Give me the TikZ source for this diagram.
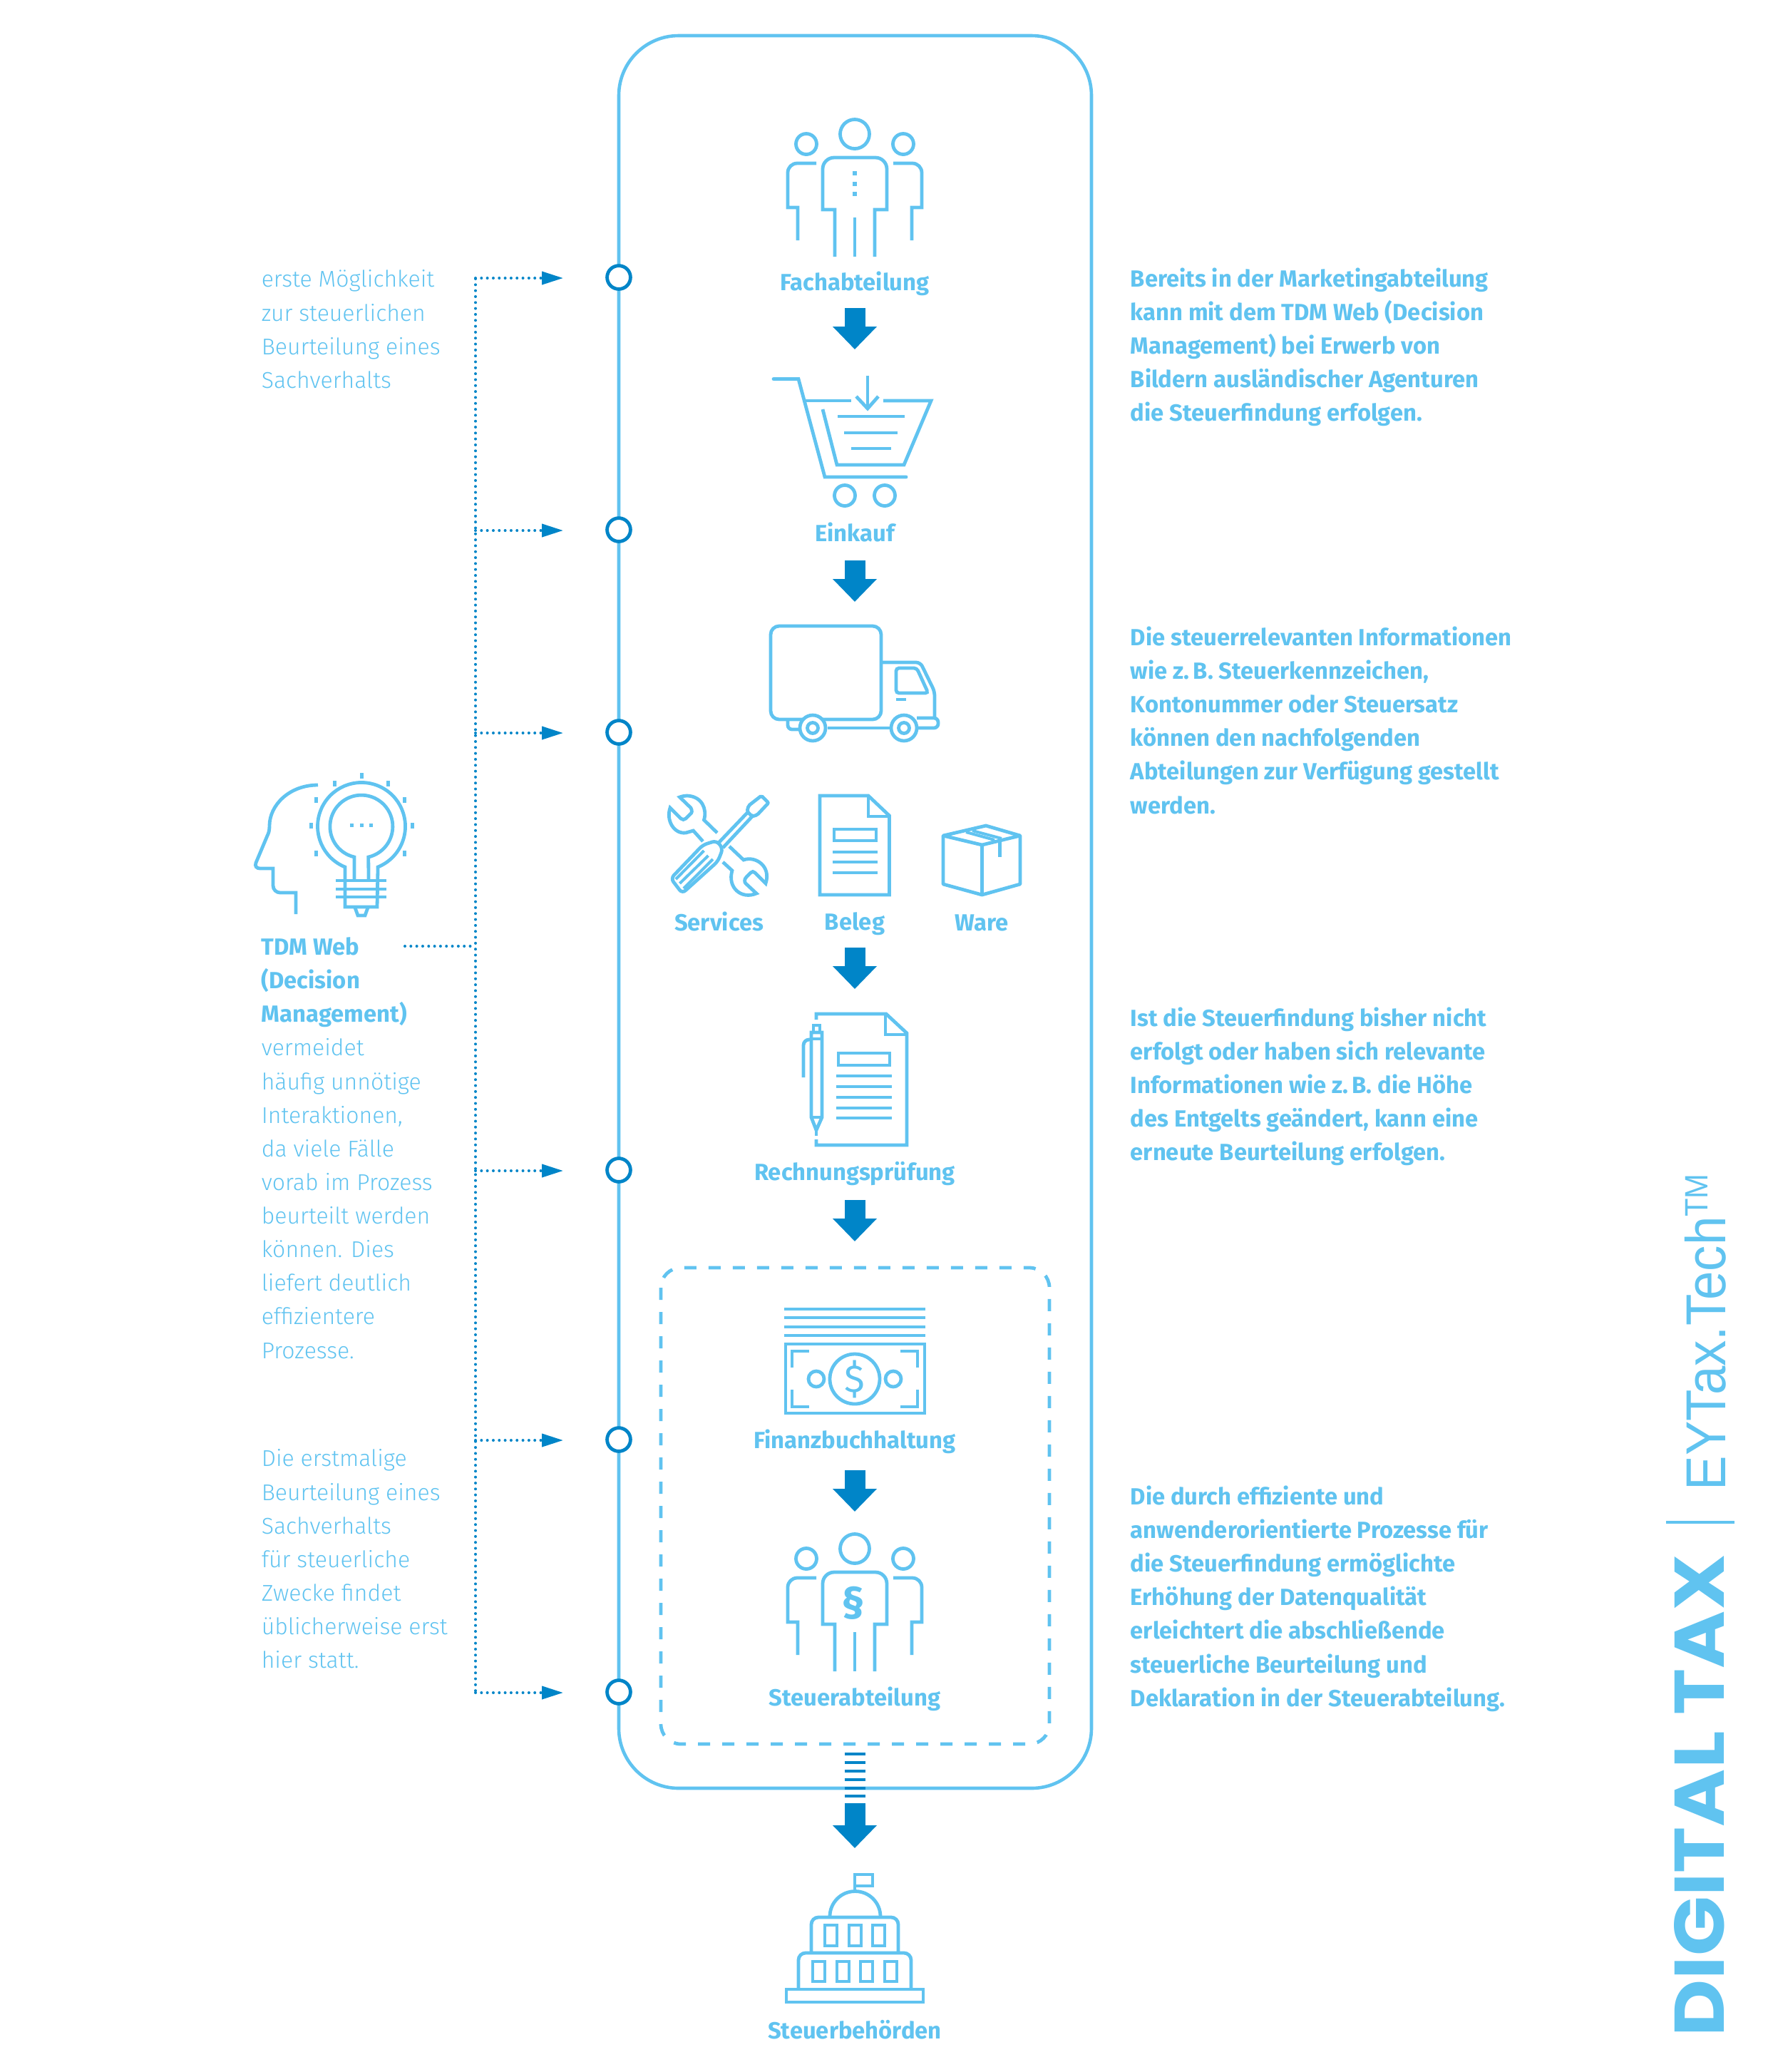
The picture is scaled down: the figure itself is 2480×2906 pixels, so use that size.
\documentclass[tikz,border=0pt]{standalone}
\usepackage{fontspec}
\usepackage{graphicx}
\setmainfont{Fira Sans}
\newfontfamily\lightfont{Fira Sans Light}
\newfontfamily\logofont{Poppins}
\newfontfamily\logothin{Liberation Sans}
\usetikzlibrary{arrows.meta}
\definecolor{eylight}{HTML}{60C3F0}
\definecolor{eydark}{HTML}{0085C8}
\tikzset{
	icon/.style={draw=eylight, line width=1.2pt, line join=miter},
	mainframe/.style={draw=eylight, line width=1.15pt, rounded corners=21pt},
	dashframe/.style={draw=eylight, line width=1.2pt, rounded corners=7pt, dash pattern=on 4.25pt off 4.25pt},
	stepcircle/.style={circle, draw=eydark, line width=1.2pt, fill=white, minimum size=8.2pt, inner sep=0pt},
	dotline/.style={draw=eydark, line width=1pt, line cap=round, dash pattern=on 0pt off 2.08pt},
	dotarrow/.style={dotline, -{Triangle[width=4.5pt,length=7.5pt]}},
	flowarrow/.style={draw=eydark, line width=7.25pt, -{Triangle[width=15pt,length=8pt]}},
	boldlabel/.style={text=eylight, font=\fontsize{8.2}{11.78}\selectfont\bfseries, inner sep=0pt},
	sidetext/.style={text=eylight, align=left, anchor=north west, inner sep=0pt, font=\fontsize{8}{11.78}\selectfont\lightfont},
	boldtext/.style={sidetext, font=\fontsize{8.2}{11.78}\selectfont\bfseries},
	peoplepic/.pic={
		\draw[icon] (0,0) circle (20.5);
		\draw[icon] (-28,172) -- (-28,106) -- (-45,106) [rounded corners=4pt] -- (-45,33) -- (45,33) [sharp corners] -- (45,106) -- (28,106) -- (28,172);
		\draw[icon] (0,117) -- (0,172);
		\foreach \s in {-1,1} {
			\draw[icon] (\s*68,14) circle (14.5);
			\draw[icon] (\s*54,41) [rounded corners=3.3pt] -- (\s*94,41) [sharp corners] -- (\s*94,103) -- (\s*80,103) -- (\s*80,149);
		}
	},
}
\begin{document}
\begin{tikzpicture}[x=0.25pt,y=-0.25pt]
	\def\cx{1199} % middle of the process column
	\def\rail{868} % left edge of the frame
	\def\trunk{667} % dotted trunk
	\useasboundingbox (0,0) rectangle (2480,2906);

	% frames
	\draw[mainframe] (\rail,50) rectangle (1531,2508);
	\draw[dashframe] (927,1778) rectangle (1472,2446);

	% dotted trunk, steps on the rail
	\coordinate (j1) at (\trunk,391);
	\coordinate (j6) at (\trunk,2373);
	\draw[dotline] (j1) -- (j6);
	\foreach \i/\y in {1/389,2/743,3/1027,4/1641,5/2019,6/2373} {
		\node[stepcircle] (c\i) at (\rail,\y) {};
		\coordinate (j\i) at (\trunk,\y+1);
		\coordinate (t\i) at (790,\y+1);
		\draw[dotarrow] (j\i) -- (t\i);
	}
	\coordinate (tdmstart) at (568,1327);
	\coordinate (tdmjoin) at (\trunk,1327);
	\draw[dotline] (tdmstart) -- (tdmjoin);

	% block arrows
	\foreach \n/\y in {a/432,b/786,c/1329,d/1683,e/2062} {
		\coordinate (\n top) at (\cx,\y);
		\coordinate (\n tip) at (\cx,\y+58);
		\draw[flowarrow] (\n top) -- (\n tip);
	}
	\coordinate (ftop) at (\cx,2529);
	\coordinate (ftip) at (\cx,2592);
	\draw[flowarrow] (ftop) -- (ftip);
	\foreach \y in {2460,2472,2484,2496,2508,2519} {
		\draw[draw=eydark, line width=1.1pt] (1184.5,\y) -- (1213.5,\y);
	}

	% Fachabteilung
	\pic at (\cx,188) {peoplepic};
	\foreach \y in {243,258,272} {
		\fill[eylight] (\cx-2.7,\y-2.7) rectangle (\cx+2.7,\y+2.7);
	}
	\node[boldlabel] (fach) at (\cx,398) {Fachabteilung};

	% Einkauf
	\draw[icon, line cap=round] (1085,531.5) -- (1120,531.5) -- (1157,669) -- (1271,669);
	\draw[icon] (1129,562) -- (1194,562);
	\draw[icon] (1239,562) -- (1306,562) -- (1268,652) -- (1174,652) -- (1154,574);
	\draw[icon] (1217,526.5) -- (1217,573);
	\draw[icon] (1201,556) -- (1217,573) -- (1232,556);
	\draw[icon] (1175,584) -- (1269,584);
	\draw[icon] (1184,607) -- (1259,607);
	\draw[icon] (1194,629) -- (1250,629);
	\draw[icon] (1185,695) circle (14.5);
	\draw[icon] (1241,695) circle (14.5);
	\node[boldlabel] (einkauf) at (\cx,746) {Einkauf};

	% Lieferung
	\draw[icon, rounded corners=3pt] (1081,878) rectangle (1236,1009);
	\draw[icon, rounded corners=1.5pt] (1237,929) -- (1291,929) -- (1311,970) [sharp corners] -- (1311,1005);
	\draw[icon, rounded corners=1pt] (1257,937) -- (1286,937) -- (1302,972) -- (1257,972) -- cycle;
	\draw[icon] (1257,981) -- (1271,981);
	\draw[icon, rounded corners=1.5pt] (1286,1007) -- (1316,1007) -- (1316,1021) -- (1287,1021);
	\draw[icon] (1161,1021) -- (1248,1021);
	\draw[icon, rounded corners=1.5pt] (1105,1009) -- (1105,1023) -- (1121,1023);
	\foreach \x in {1140,1268} {
		\draw[icon, fill=white] (\x,1021) circle (18);
		\draw[icon] (\x,1021) circle (7.5);
	}

	% Services
	\draw[icon] (1006,1168) -- (987.5,1150) .. controls (992,1135) and (985,1117) .. (964,1116) .. controls (960,1116) and (956,1117) .. (953.5,1118) -- (969,1133) .. controls (971,1137) and (971,1140) .. (968,1142) -- (962,1148) .. controls (960,1150) and (957,1150) .. (955,1148) -- (940,1133) .. controls (934,1150) and (945,1170) .. (962,1168) -- (972.5,1165) -- (986,1180);
	\draw[icon] (1023,1187) -- (1043,1206) .. controls (1060,1200) and (1082,1215) .. (1074,1239) -- (1059,1224) .. controls (1057,1222) and (1055,1222) .. (1053,1224) -- (1047,1230) .. controls (1044,1233) and (1044,1237) .. (1046,1239) -- (1061,1253) .. controls (1040,1262) and (1020,1245) .. (1027,1221) -- (1014,1209);
	\draw[icon] (1007,1183) -- (1050,1138);
	\draw[icon] (1014,1189) -- (1057,1143);
	\draw[icon, rounded corners=0.5pt] (1050,1130) -- (1068,1116) -- (1078,1126) -- (1062,1143) -- (1055,1145) -- (1048,1138) -- cycle;
	\draw[icon, rounded corners=1.5pt] (1005,1179) -- (986,1185) -- (941,1232) -- (957,1253) -- (1007,1208) -- (1014,1190) -- cycle;
	\draw[icon, line width=1pt] (987.5,1193) -- (948,1233);
	\draw[icon, line width=1pt] (993.5,1200) -- (953.5,1239);
	\draw[icon, line width=1pt] (1000,1205) -- (959,1246);
	\node[boldlabel] (services) at (1008.6,1292) {Services};

	% Beleg
	\draw[icon] (1150,1116) -- (1218,1116) -- (1247.5,1144) -- (1247.5,1255) -- (1150,1255) -- cycle;
	\draw[icon] (1218,1116) -- (1218,1145) -- (1247.5,1145);
	\draw[icon] (1170,1163) rectangle (1229,1179);
	\foreach \y in {1195,1209,1224} {
		\draw[icon] (1168,\y) -- (1231,\y);
	}
	\node[boldlabel] (beleg) at (\cx,1296) {Beleg};

	% Ware
	\draw[icon, line join=round] (1323,1172) -- (1383,1158) -- (1431,1172) -- (1431,1240) -- (1377.5,1255) -- (1323,1240) -- cycle;
	\draw[icon] (1323,1172) -- (1377.5,1185) -- (1431,1172);
	\draw[icon] (1377.5,1185) -- (1377.5,1255);
	\draw[icon, line width=1pt] (1355,1167) -- (1395,1178);
	\draw[icon, line width=1pt] (1364,1165) -- (1405,1176);
	\draw[icon] (1402.5,1180) -- (1402.5,1202);
	\node[boldlabel] (ware) at (1377.5,1294) {Ware};

	% Rechnungsprüfung
	\draw[icon] (1145,1430) -- (1145,1422) -- (1243,1422) -- (1272,1449) -- (1272,1606) -- (1145,1606) -- (1145,1598);
	\draw[icon] (1242,1422) -- (1242,1451) -- (1272,1451);
	\draw[icon] (1176,1477) rectangle (1248,1494);
	\foreach \y in {1509,1524,1539,1554,1568} {
		\draw[icon] (1173,\y) -- (1251,\y);
	}
	\draw[icon] (1138,1448) -- (1153,1448) -- (1153,1567) -- (1145,1585) -- (1138,1567) -- cycle;
	\draw[icon] (1141,1448) -- (1141,1438) -- (1150,1438) -- (1150,1448);
	\draw[icon] (1138,1457) -- (1153,1457);
	\draw[icon] (1138,1567) -- (1153,1567);
	\draw[icon] (1145,1585) -- (1145,1593);
	\draw[icon, rounded corners=2pt] (1127,1511) -- (1127,1458) -- (1138,1458);
	\node[boldlabel] (rechnung) at (\cx,1646) {Rechnungsprüfung};

	% Finanzbuchhaltung
	\foreach \y in {1836,1848,1861,1873} {
		\draw[icon] (1100,\y) -- (1298,\y);
	}
	\draw[icon] (1102,1885) rectangle (1297,1982);
	\draw[icon] (1111,1918) -- (1111,1895) -- (1135,1895);
	\draw[icon] (1263,1895) -- (1287,1895) -- (1287,1918);
	\draw[icon] (1111,1949) -- (1111,1973) -- (1135,1973);
	\draw[icon] (1263,1973) -- (1287,1973) -- (1287,1949);
	\draw[icon] (\cx,1934) circle (35);
	\draw[icon] (1145,1934) circle (11);
	\draw[icon] (1253,1934) circle (11);
	\node[text=eylight, inner sep=0pt, font=\fontsize{13.5}{13.5}\selectfont] (dollar) at (\cx,1934) {\$};
	\node[boldlabel] (finanz) at (\cx,2022) {Finanzbuchhaltung};

	% Steuerabteilung
	\pic at (\cx,2172) {peoplepic};
	\node[text=eylight, inner sep=0pt, font=\fontsize{15}{15}\selectfont\bfseries] (para) at (1197,2248) {§};
	\node[boldlabel] (steuerabt) at (\cx,2383) {Steuerabteilung};

	% Steuerbehörden
	\draw[icon] (1199,2652) -- (1199,2629) -- (1224,2629) -- (1224,2645) -- (1199,2645);
	\draw[icon] (1164,2688) arc[start angle=180, end angle=360, radius=35.5];
	\draw[icon, rounded corners=2.5pt] (1138,2738) -- (1138,2689) -- (1260,2689) -- (1260,2738);
	\draw[icon, rounded corners=2.5pt] (1120,2790) -- (1120,2739) -- (1278,2739) -- (1278,2790);
	\foreach \x in {1157,1191,1224} {
		\draw[icon] (\x,2700) rectangle (\x+17,2729);
	}
	\foreach \x in {1140,1174,1207,1241} {
		\draw[icon] (\x,2751) rectangle (\x+17,2779);
	}
	\draw[icon] (1103,2790) rectangle (1295,2808);
	\node[boldlabel] (behoerde) at (\cx,2847) {Steuerbehörden};

	% TDM Web
	\draw[icon] (446,1101) .. controls (405,1101) and (378,1130) .. (378,1158) .. controls (378,1165) and (377,1168) .. (375,1172) -- (359,1210) .. controls (357,1215) and (360,1218) .. (365,1218) -- (383,1218) -- (383,1242) .. controls (383,1248) and (388,1252) .. (393,1252) -- (415,1252) -- (415,1282);
	\draw[icon] (484,1272) -- (484,1216) arc[start angle=112, delta angle=316, radius=61.5] -- (529,1272) -- cycle;
	\draw[icon] (497,1233) -- (497,1202) arc[start angle=103, delta angle=334, radius=44] -- (517,1233);
	\foreach \y in {1235,1247,1258} {
		\draw[icon] (471,\y) -- (542,\y);
	}
	\draw[icon] (498,1273) -- (502,1284) -- (512,1284) -- (516,1273);
	\foreach \x in {493,507,520} {
		\fill[eylight] (\x-2.5,1154.5) rectangle (\x+2.5,1159.5);
	}
	\foreach \x/\y in {507/1088,469/1099,544/1099,443/1122,567/1122,436/1158,578/1158,443/1197,567/1197} {
		\fill[eylight] (\x-2.5,\y-4) rectangle (\x+2.5,\y+4);
	}

	% left texts
	\node[sidetext] (left1) at (366,378) {erste Möglichkeit\\zur steuerlichen\\Beurteilung eines\\Sachverhalts};
	\node[boldtext] (tdm) at (366,1314) {TDM Web\\(Decision\\Management)};
	\node[sidetext] (left2) at (366,1456) {vermeidet\\häufig unnötige\\Interaktionen,\\da viele Fälle\\vorab im Prozess\\beurteilt werden\\können. Dies\\liefert deutlich\\effizientere\\Prozesse.};
	\node[sidetext] (left3) at (366,2032) {Die erstmalige\\Beurteilung eines\\Sachverhalts\\für steuerliche\\Zwecke findet\\üblicherweise erst\\hier statt.};

	% right texts
	\node[boldtext] (right1) at (1585,375) {Bereits in der Marketingabteilung\\kann mit dem TDM Web (Decision\\Management) bei Erwerb von\\Bildern ausländischer Agenturen\\die Steuerfindung erfolgen.};
	\node[boldtext] (right2) at (1585,878) {Die steuerrelevanten Informationen\\wie z.\,B. Steuerkennzeichen,\\Kontonummer oder Steuersatz\\können den nachfolgenden\\Abteilungen zur Verfügung gestellt\\werden.};
	\node[boldtext] (right3) at (1585,1412) {Ist die Steuerfindung bisher nicht\\erfolgt oder haben sich relevante\\Informationen wie z.\,B. die Höhe\\des Entgelts geändert, kann eine\\erneute Beurteilung erfolgen.};
	\node[boldtext] (right4) at (1585,2083) {Die durch effiziente und\\anwenderorientierte Prozesse für\\die Steuerfindung ermöglichte\\Erhöhung der Datenqualität\\erleichtert die abschließende\\steuerliche Beurteilung und\\Deklaration in der Steuerabteilung.};

	% logo
	\node[rotate=90, anchor=south west, inner sep=0pt, text=eylight] (digital) at (2420,2857) {\resizebox{169pt}{17.5pt}{\logofont\bfseries DIGITAL TAX}};
	\coordinate (bar1) at (2337,2135);
	\coordinate (bar2) at (2433,2135);
	\draw[eylight, line width=1.2pt] (bar1) -- (bar2);
	\node[rotate=90, anchor=base west, inner sep=0pt, text=eylight] (eytax) at (2420,2091) {\resizebox{111pt}{14.3pt}{\fontsize{20}{20}\selectfont\logothin EYTax.Tech\raisebox{6.1pt}{\fontsize{11.5}{11.5}\selectfont TM}}};
\end{tikzpicture}
\end{document}
